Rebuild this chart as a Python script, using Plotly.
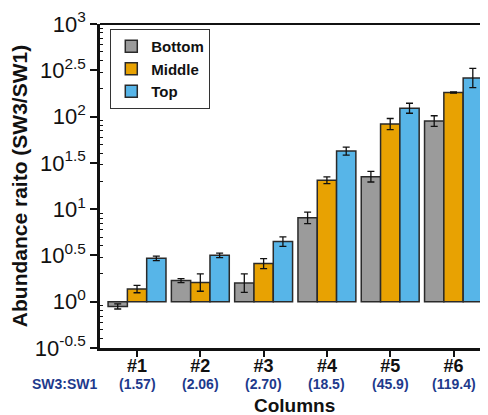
import plotly.graph_objects as go

columns = ["#1", "#2", "#3", "#4", "#5", "#6"]
ratios = ["(1.57)", "(2.06)", "(2.70)", "(18.5)", "(45.9)", "(119.4)"]
series = ["Bottom", "Middle", "Top"]
bottom = [0.89, 1.69, 1.59, 8.05, 22.4, 89.5]
middle = [1.37, 1.61, 2.58, 20.5, 83.0, 182.0]
top = [2.94, 3.17, 4.46, 42.4, 123.0, 261.0]
# errors expressed in log10 units
bottom_err = [0.028, 0.022, 0.10, 0.063, 0.057, 0.057]
middle_err = [0.04, 0.094, 0.054, 0.036, 0.06, 0.006]
top_err = [0.024, 0.024, 0.052, 0.043, 0.054, 0.105]
colors = ["#9b9b9b", "#e8a202", "#57b5e8"]

ytick_exp = [-0.5, 0, 0.5, 1, 1.5, 2, 2.5, 3]
BLUE = "#1e3a8c"
FONT = "Liberation Sans, Arial, sans-serif"

fig = go.Figure()
for name, vals, errs, col in zip(series, [bottom, middle, top],
                                 [bottom_err, middle_err, top_err], colors):
    plus = [v * (10 ** e - 1) for v, e in zip(vals, errs)]
    minus = [v * (1 - 10 ** -e) for v, e in zip(vals, errs)]
    fig.add_trace(go.Bar(
        x=columns, y=[v - 1 for v in vals], base=1, name=f"<b>{name}</b>",
        marker=dict(color=col, line=dict(color="#2a2a2a", width=1.5)),
        error_y=dict(type="data", symmetric=False, array=plus, arrayminus=minus,
                     color="#111111", thickness=1.3, width=3.5),
    ))

minor_vals = []
for d in [-1, 0, 1, 2]:
    for k in range(2, 10):
        v = k * 10 ** d
        if 10 ** -0.5 < v < 1000:
            minor_vals.append(v)

annotations = [dict(text=f"<b>{r}</b>", x=c, xref="x", yref="paper", y=-0.112,
                    xanchor="center", yanchor="middle", showarrow=False,
                    font=dict(size=14, color=BLUE, family=FONT))
               for c, r in zip(columns, ratios)]
annotations.append(dict(text="<b>SW3:SW1</b>", xref="paper", yref="paper",
                        x=-0.09, y=-0.112, xanchor="center", yanchor="middle",
                        showarrow=False, font=dict(size=14, color=BLUE, family=FONT)))
annotations.append(dict(text="<b>Columns</b>", xref="paper", yref="paper",
                        x=0.5, y=-0.176, xanchor="center", yanchor="middle",
                        showarrow=False, font=dict(size=19, color="#111111", family=FONT)))

fig.update_layout(
    width=480, height=407,
    margin=dict(l=92, r=0, t=16, b=67, autoexpand=False),
    paper_bgcolor="white", plot_bgcolor="white",
    font=dict(family=FONT, color="#111111"),
    barmode="group", bargap=0.085, bargroupgap=0,
    showlegend=True,
    legend=dict(x=0.026, y=0.985, xanchor="left", yanchor="top",
                bgcolor="white", bordercolor="#333333", borderwidth=1.2,
                font=dict(size=15, family=FONT, color="#111111"),
                tracegroupgap=0, itemwidth=30),
    xaxis=dict(range=[-0.585, 5.545], tickmode="array", tickvals=columns,
               ticktext=[f"<b>{c}</b>" for c in columns],
               ticks="outside", ticklen=6, tickwidth=2, ticklabelstandoff=-6,
               tickcolor="#111111", showline=True, linecolor="#111111",
               linewidth=2.5, showgrid=False, zeroline=False, automargin=False,
               tickfont=dict(size=18), fixedrange=True),
    yaxis=dict(type="log", range=[-0.5, 3], tickmode="array",
               tickvals=[10 ** e for e in ytick_exp],
               ticktext=[f"10<sup>{e:g}</sup>" for e in ytick_exp],
               ticks="outside", ticklen=7, tickwidth=1.5, tickcolor="#111111",
               minor=dict(tickvals=minor_vals, ticks="inside", ticklen=3,
                          tickwidth=1, tickcolor="#111111", showgrid=False),
               showline=True, linecolor="#111111", linewidth=2.5, automargin=False,
               showgrid=False, zeroline=False, tickfont=dict(size=22, color="#111111"),
               title=dict(text="<b>Abundance raito (SW3/SW1)</b>",
                          font=dict(size=21), standoff=4)),
    shapes=[dict(type="line", xref="paper", yref="paper", x0=0, x1=1, y0=1, y1=1,
                 line=dict(color="#111111", width=2))],
    annotations=annotations,
)

fig.write_html("out.html")
